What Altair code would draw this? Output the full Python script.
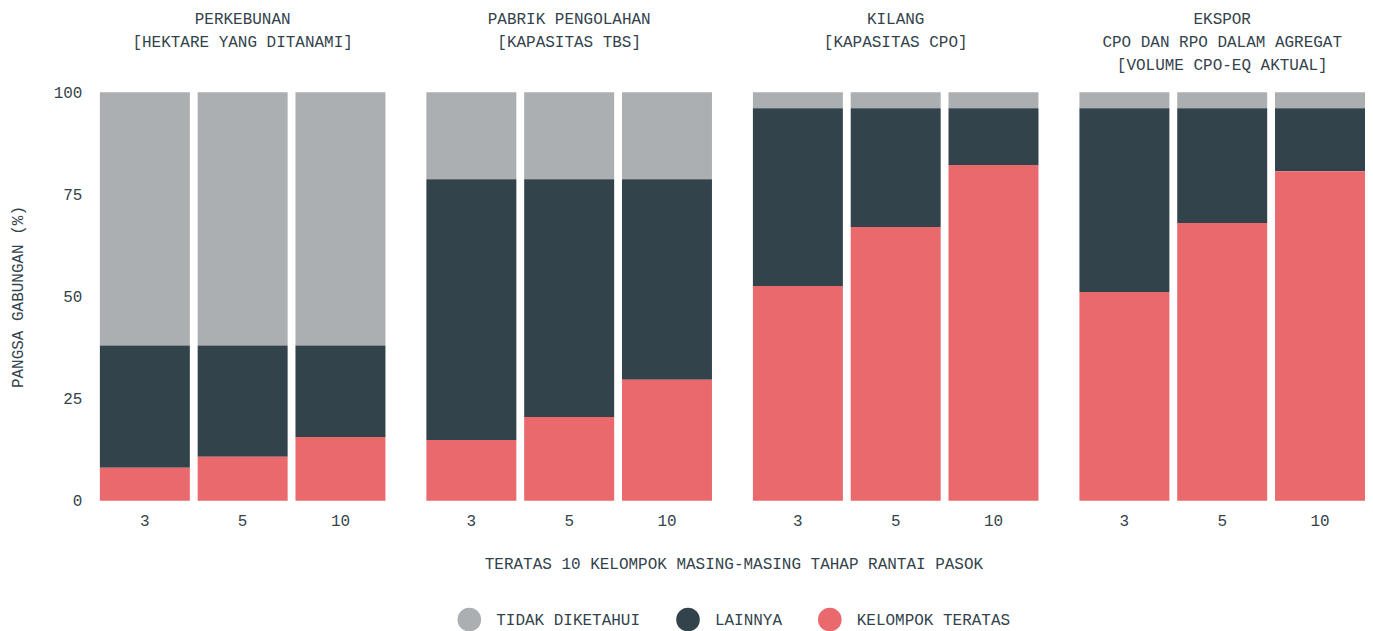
import altair as alt
import pandas as pd

stages = [
    "PERKEBUNAN|[HEKTARE YANG DITANAMI]| ",
    "PABRIK PENGOLAHAN|[KAPASITAS TBS]| ",
    "KILANG|[KAPASITAS CPO]| ",
    "EKSPOR|CPO DAN RPO DALAM AGREGAT|[VOLUME CPO-EQ AKTUAL]",
]
groups = ["3", "5", "10"]
categories = ["TIDAK DIKETAHUI", "LAINNYA", "KELOMPOK TERATAS"]
colors = ["#abafb2", "#33434b", "#e9696c"]

kelompok_teratas = [
    [8.1, 10.8, 15.6],
    [14.9, 20.5, 29.6],
    [52.6, 67.0, 82.2],
    [51.1, 68.0, 80.7],
]
lainnya = [
    [29.9, 27.2, 22.4],
    [63.8, 58.2, 49.1],
    [43.5, 29.1, 13.9],
    [45.0, 28.1, 15.4],
]
tidak_diketahui = [
    [62.0, 62.0, 62.0],
    [21.3, 21.3, 21.3],
    [3.9, 3.9, 3.9],
    [3.9, 3.9, 3.9],
]
x_title = "TERATAS 10 KELOMPOK MASING-MASING TAHAP RANTAI PASOK"

rows = []
for si, s in enumerate(stages):
    for gi, g in enumerate(groups):
        for ci, (cat, arr) in enumerate(zip(categories, [tidak_diketahui, lainnya, kelompok_teratas])):
            rows.append({"stage": s, "group": g, "category": cat, "value": arr[si][gi], "ord": 2 - ci})
df = pd.DataFrame(rows)

FONT = "Liberation Mono"
TXT = "#33434b"

chart = alt.Chart(df).mark_bar().encode(
    x=alt.X("group:N", sort=groups, title=None,
            scale=alt.Scale(paddingInner=0.08, paddingOuter=0),
            axis=alt.Axis(labelAngle=0, ticks=False, domain=False, labelPadding=12)),
    y=alt.Y("value:Q", stack="zero", scale=alt.Scale(domain=[0, 100]), title="PANGSA GABUNGAN (%)",
            axis=alt.Axis(values=[0, 25, 50, 75, 100], grid=False, domain=False, ticks=False,
                          labelPadding=18, titlePadding=28)),
    color=alt.Color("category:N", scale=alt.Scale(domain=categories, range=colors),
                    legend=alt.Legend(orient="none", legendX=358, legendY=464, title=x_title,
                                      titleOrient="top", titleAnchor="middle", titlePadding=36,
                                      titleFont=FONT, titleFontSize=16, titleFontWeight="normal",
                                      titleColor=TXT, titleLimit=2000,
                                      direction="horizontal",
                                      symbolType="circle", symbolSize=560, symbolStrokeWidth=0,
                                      labelOffset=15, columnPadding=35,
                                      labelFontSize=16, labelFont=FONT, labelColor=TXT)),
    order=alt.Order("ord:Q"),
).properties(width=286, height=409).facet(
    column=alt.Column("stage:N", sort=stages, title=None,
                      header=alt.Header(labelExpr="split(datum.value, '|')", labelFontSize=16,
                                        labelFont=FONT, labelColor=TXT, labelBaseline="top",
                                        labelLineHeight=23, labelPadding=18)),
    spacing=41,
).properties(
    padding={"top": 3, "left": 1, "right": 0, "bottom": 0}
).configure_view(stroke=None).configure_axis(
    labelFont=FONT, titleFont=FONT, labelFontSize=16, titleFontSize=16,
    labelColor=TXT, titleColor=TXT, titleFontWeight="normal",
)

chart.save("out.html", embed_options={"renderer": "svg", "actions": False})
